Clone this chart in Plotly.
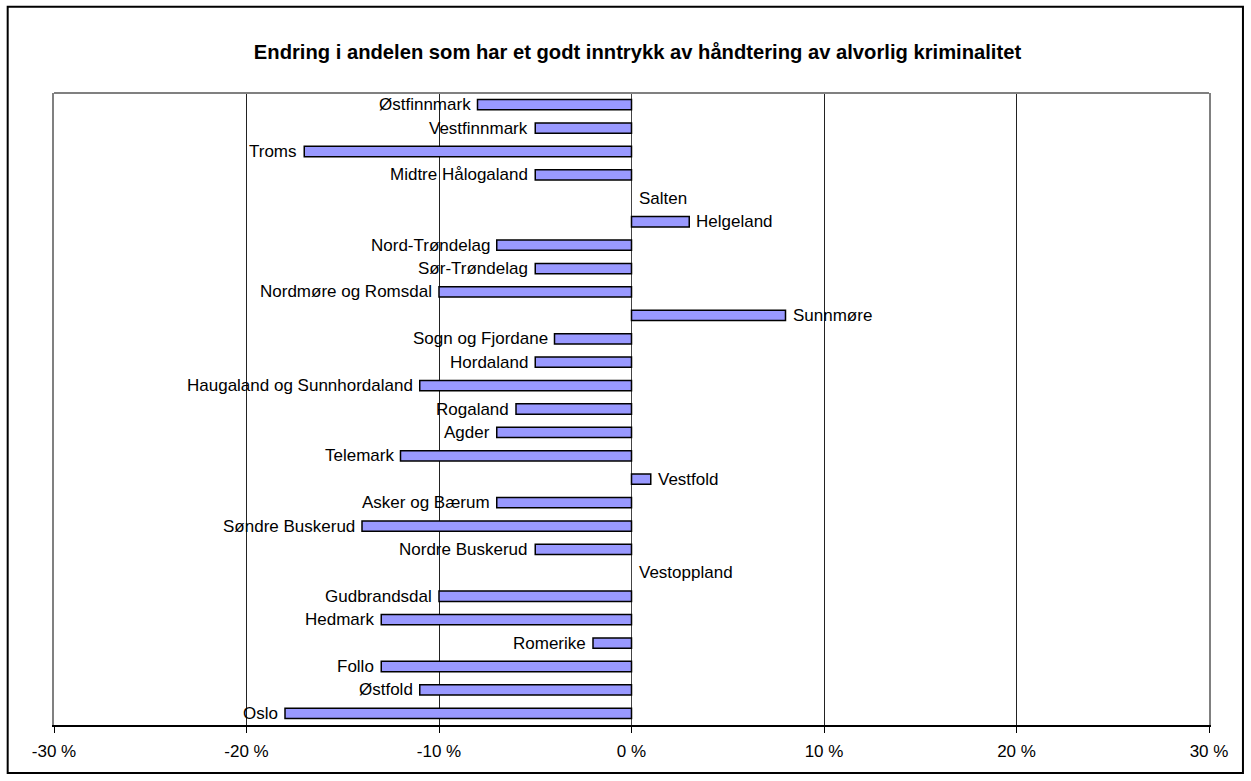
import plotly.graph_objects as go

TITLE = "Endring i andelen som har et godt inntrykk av håndtering av alvorlig kriminalitet"

regions = [
    "Østfinnmark", "Vestfinnmark", "Troms", "Midtre Hålogaland", "Salten",
    "Helgeland", "Nord-Trøndelag", "Sør-Trøndelag", "Nordmøre og Romsdal",
    "Sunnmøre", "Sogn og Fjordane", "Hordaland", "Haugaland og Sunnhordaland",
    "Rogaland", "Agder", "Telemark", "Vestfold", "Asker og Bærum",
    "Søndre Buskerud", "Nordre Buskerud", "Vestoppland", "Gudbrandsdal",
    "Hedmark", "Romerike", "Follo", "Østfold", "Oslo",
]
change_pct = [
    -8, -5, -17, -5, 0,
    3, -7, -5, -10,
    8, -4, -5, -11,
    -6, -7, -12, 1, -7,
    -14, -5, 0, -10,
    -13, -2, -13, -11, -18,
]
tick_values = [-30, -20, -10, 0, 10, 20, 30]
tick_labels = ["-30 %", "-20 %", "-10 %", "0 %", "10 %", "20 %", "30 %"]

FONT = "Liberation Sans, Arial, sans-serif"
LABEL_SIZE = 17

fig = go.Figure()
fig.add_trace(go.Bar(
    x=change_pct,
    y=regions,
    orientation="h",
    width=0.44,
    marker=dict(
        color="#9999FF",
        line=dict(color="#000000",
                  width=[0 if v == 0 else 1.5 for v in change_pct]),
    ),
    showlegend=False,
    hoverinfo="x+y",
))

annotations = []
for name, val in zip(regions, change_pct):
    neg = val < 0
    annotations.append(dict(
        x=val, y=name, xref="x", yref="y",
        text=name, showarrow=False,
        xanchor="right" if neg else "left",
        yanchor="middle",
        xshift=-5 if neg else 5,
        font=dict(family=FONT, size=LABEL_SIZE, color="#000000"),
    ))

shapes = [
    # top border of plot area
    dict(type="line", xref="paper", yref="paper", x0=0, x1=1, y0=1, y1=1,
         line=dict(color="#808080", width=2), layer="above"),
    # outer chart frame
    dict(type="rect", xref="paper", yref="paper",
         x0=-0.0401, x1=1.0294, y0=-0.0759, y1=1.1365,
         line=dict(color="#000000", width=2), fillcolor="rgba(0,0,0,0)"),
]

fig.update_layout(
    width=1251, height=781,
    margin=dict(l=54, r=42, t=93, b=56),
    paper_bgcolor="white", plot_bgcolor="white",
    font=dict(family=FONT, size=LABEL_SIZE, color="#000000"),
    title=dict(
        text="<b>" + TITLE + "</b>",
        x=0.5096, xref="container", xanchor="center",
        y=1 - 52 / 781, yref="container", yanchor="middle",
        font=dict(family=FONT, size=20.2, color="#000000"),
    ),
    annotations=annotations,
    shapes=shapes,
    bargap=0.5,
)

fig.update_xaxes(
    range=[-30, 30],
    tickvals=tick_values, ticktext=tick_labels,
    showgrid=True, gridcolor="#222222", gridwidth=1,
    zeroline=True, zerolinecolor="#444444", zerolinewidth=1,
    showline=True, linecolor="#000000", linewidth=1.5,
    ticks="outside", ticklen=6, tickcolor="#000000", tickwidth=1,
    ticklabelstandoff=4,
    tickfont=dict(family=FONT, size=LABEL_SIZE, color="#000000"),
    fixedrange=True,
)
fig.update_yaxes(
    categoryorder="array", categoryarray=regions,
    range=[len(regions) - 0.5, -0.5],
    showticklabels=False, ticks="",
    showgrid=False, zeroline=False,
    showline=True, linecolor="#808080", linewidth=2, mirror=True,
    fixedrange=True,
)

fig.write_html(
    "out.html",
    config={"displayModeBar": False},
    post_script="document.body.style.margin='0';document.body.style.overflow='hidden';",
)
